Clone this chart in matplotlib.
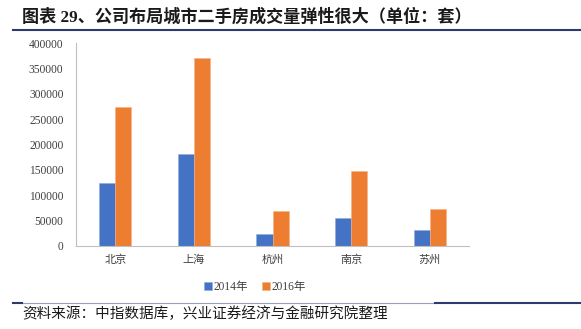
import matplotlib
matplotlib.use("Agg")
import matplotlib.pyplot as plt
import numpy as np
from matplotlib.lines import Line2D

cities = ["北京", "上海", "杭州", "南京", "苏州"]
series_names = ["2014年", "2016年"]
v2014 = [125000, 181000, 23000, 56000, 32000]
v2016 = [274000, 371000, 68000, 148000, 72000]
yticks = [0, 50000, 100000, 150000, 200000, 250000, 300000, 350000, 400000]
title = "图表 29、公司布局城市二手房成交量弹性很大（单位：套）"
source = "资料来源：中指数据库，兴业证券经济与金融研究院整理"

MIX = ["Liberation Serif", "Noto Sans CJK SC", "DejaVu Sans"]
CJK = ["Noto Sans CJK SC", "DejaVu Sans"]
plt.rcParams["font.family"] = MIX

fig = plt.figure(figsize=(5.81, 3.29), dpi=100)
ax = fig.add_axes([76/581, 1-246/329, (469-76)/581, (246-43)/329])

x = np.arange(len(cities))
w = 0.205
ax.bar(x - w/2, v2014, w, color="#4472C4", edgecolor="#8FAADC", linewidth=0.4, label=series_names[0])
ax.bar(x + w/2, v2016, w, color="#ED7D31", edgecolor="#F4B183", linewidth=0.4, label=series_names[1])

ax.set_xlim(-0.5, len(cities) - 0.5)
ax.set_ylim(0, 400000)
ax.set_yticks(yticks)
ax.set_yticklabels([str(t) for t in yticks], fontsize=8.3, color="#404040")
ax.set_xticks(x)
ax.set_xticklabels(cities, fontsize=8, color="#404040", family=CJK)
ax.tick_params(axis="both", length=0)
ax.tick_params(axis="y", pad=9)
ax.tick_params(axis="x", pad=6)
for s in ["top", "right"]:
    ax.spines[s].set_visible(False)
ax.spines["left"].set_color("#BFBFBF")
ax.spines["bottom"].set_color("#BFBFBF")
ax.spines["left"].set_linewidth(0.8)
ax.spines["bottom"].set_linewidth(0.8)

leg = fig.legend(loc="center", bbox_to_anchor=(255/581, 1-287/329), ncol=2, frameon=False,
                 fontsize=8.3, handlelength=0.7, handleheight=0.7, handletextpad=0.1,
                 columnspacing=1.2)
for t in leg.get_texts():
    t.set_color("#404040")

fig.text(22/581, 1-17/329, title, fontsize=12.3, fontweight="bold", va="center", ha="left",
         color="#1a1a1a", family=MIX)
fig.add_artist(Line2D([13/581, 1], [1-30/329, 1-30/329], color="#2E3A6E", linewidth=1.5,
                      transform=fig.transFigure))

ybot = 1-303/329
fig.add_artist(Line2D([22/581, 435/581], [ybot, ybot], color="#9A9FC0", linewidth=0.8,
                      transform=fig.transFigure))
fig.add_artist(Line2D([13/581, 22/581], [ybot, ybot], color="#2E3A6E", linewidth=1.5,
                      transform=fig.transFigure))
fig.add_artist(Line2D([435/581, 1], [ybot, ybot], color="#2E3A6E", linewidth=1.5,
                      transform=fig.transFigure))
fig.text(22/581, 1-314/329, source, fontsize=10.5, va="center", ha="left",
         color="#1a1a1a", family=CJK)

fig.savefig("out.png", dpi=100)
